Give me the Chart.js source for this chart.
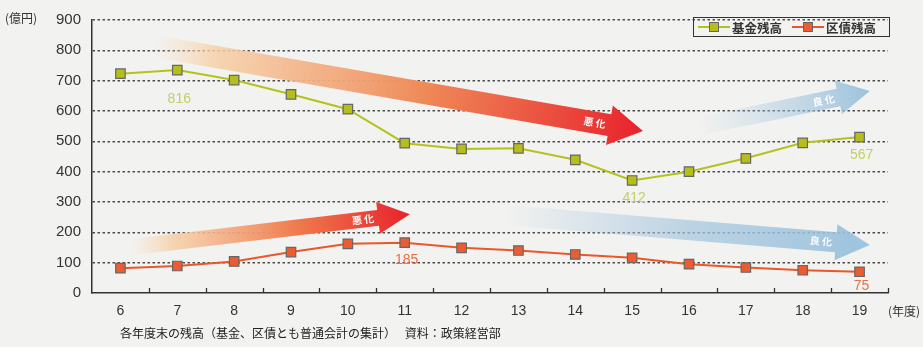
<!DOCTYPE html>
<html>
<head>
<meta charset="utf-8">
<script src="https://cdn.jsdelivr.net/npm/chart.js@4/dist/chart.umd.min.js"></script>
<style>
  html, body { margin: 0; padding: 0; }
  body { width: 923px; height: 347px; position: relative; overflow: hidden; background: #f2f2f0;
         font-family: 'Liberation Sans', Arial, 'Noto Sans CJK JP', sans-serif; color: #222; }
  #c { position: absolute; left: 0; top: 0; }
  .unit { position: absolute; font-size: 12px; font-family: 'Noto Sans CJK JP', sans-serif; color: #333; }
  .legend { position: absolute; left: 693px; top: 17px; width: 195px; height: 18px; border: 1.5px solid #333;
            font-family: 'Noto Sans CJK JP', sans-serif; font-size: 12.5px; font-weight: bold; color: #333;
            display: flex; align-items: center; }
  .item { display: flex; align-items: center; margin-left: 4px; margin-right: 6px; }
  .sw { position: relative; width: 32px; height: 10px; margin-right: 2px; }
  .sw .ln { position: absolute; left: 0; right: 0; top: 4px; height: 2px; }
  .sw .mk { position: absolute; left: 11px; top: 0; width: 8px; height: 8px; border: 1px solid #666; }
  .caption { position: absolute; left: 120px; top: 324px; font-size: 12px; font-family: 'Noto Sans CJK JP', sans-serif; color: #222; white-space: pre; }
</style>
</head>
<body>
<canvas id="c" width="923" height="347"></canvas>
<div class="unit" style="left:5px; top:9px;">(億円)</div>
<div class="unit" style="left:888px; top:302px;">(年度)</div>
<div class="legend">
  <div class="item"><div class="sw"><div class="ln" style="background:#b4c21e"></div><div class="mk" style="background:#b6be1c"></div></div>基金残高</div>
  <div class="item"><div class="sw"><div class="ln" style="background:#e8582a"></div><div class="mk" style="background:#ec5c32"></div></div>区債残高</div>
</div>
<div class="caption">各年度末の残高（基金、区債とも普通会計の集計）　 資料：政策経営部</div>
<script>
// 年度末残高（億円）— 図から読み取った値
const years = ['6', '7', '8', '9', '10', '11', '12', '13', '14', '15', '16', '17', '18', '19'];
const fundBalance = [723, 735, 702, 655, 606, 494, 475, 477, 439, 371, 400, 444, 495, 514];
const debtBalance = [82, 89, 104, 135, 162, 166, 149, 140, 127, 116, 95, 84, 75, 70];
const yTicks = [0, 100, 200, 300, 400, 500, 600, 700, 800, 900];

// 図中の注記数値（年度インデックス, 表示文字, 系列）
const noteIdx = [1, 9, 13, 5, 13];
const noteText = ['816', '412', '567', '185', '75'];
const noteSeries = [0, 0, 0, 1, 1];

// 矢印（始点・終点: [年度インデックス, 億円]）
const arrowFrom = [[0.61, 813], [0.17, 151], [10.19, 550], [6.76, 257]];
const arrowTo = [[9.19, 534], [5.09, 260], [13.18, 666], [13.18, 158]];
const arrowText = ['悪 化', '悪 化', '良 化', '良 化'];

const GREEN = '#b4c21e', ORANGE = '#e8582a';
const NOTE_COLORS = ['#c3cf62', '#ea6e48'];
const NOTE_DY = [29, 18, 18, 17, 14];
const ARROW_STYLE = [
  { shaft: 22, head: 40, len: 34, stops: [[0, 'rgba(248,222,190,0)'], [0.12, 'rgba(246,208,168,0.85)'], [0.55, '#ef8a58'], [1, '#e8222c']] },
  { shaft: 16, head: 32, len: 32, stops: [[0, 'rgba(248,222,190,0)'], [0.15, 'rgba(246,208,168,0.85)'], [0.6, '#ef7a4c'], [1, '#e8222c']] },
  { shaft: 18, head: 34, len: 32, stops: [[0, 'rgba(170,200,225,0)'], [1, 'rgba(152,192,220,0.95)']] },
  { shaft: 20, head: 36, len: 34, stops: [[0, 'rgba(170,200,225,0)'], [0.5, 'rgba(165,198,222,0.7)'], [1, 'rgba(152,192,220,0.95)']] },
];

function drawArrow(ctx, x0, y0, x1, y1, st, text) {
  const ang = Math.atan2(y1 - y0, x1 - x0);
  const L = Math.hypot(x1 - x0, y1 - y0);
  ctx.save();
  ctx.translate(x0, y0);
  ctx.rotate(ang);
  const g = ctx.createLinearGradient(0, 0, L, 0);
  for (const [o, c] of st.stops) g.addColorStop(o, c);
  ctx.fillStyle = g;
  ctx.beginPath();
  ctx.moveTo(0, -st.shaft / 2);
  ctx.lineTo(L - st.len, -st.shaft / 2);
  ctx.lineTo(L - st.len, -st.head / 2);
  ctx.lineTo(L, 0);
  ctx.lineTo(L - st.len, st.head / 2);
  ctx.lineTo(L - st.len, st.shaft / 2);
  ctx.lineTo(0, st.shaft / 2);
  ctx.closePath();
  ctx.fill();
  ctx.fillStyle = 'rgba(255,255,255,0.95)';
  ctx.font = 'bold 10px "Noto Sans CJK JP", sans-serif';
  ctx.textAlign = 'right';
  ctx.textBaseline = 'middle';
  ctx.fillText(text, L - st.len - 4, 0);
  ctx.restore();
}

const decorPlugin = {
  id: 'decor',
  beforeDatasetsDraw(chart) {
    const { ctx, scales: { x, y } } = chart;
    arrowFrom.forEach((f, i) => {
      const t = arrowTo[i];
      drawArrow(ctx, x.getPixelForValue(f[0]), y.getPixelForValue(f[1]),
        x.getPixelForValue(t[0]), y.getPixelForValue(t[1]), ARROW_STYLE[i], arrowText[i]);
    });
    // x軸の目盛（上向き）
    ctx.save();
    ctx.strokeStyle = '#333';
    ctx.lineWidth = 1.3;
    const step = x.getPixelForValue(1) - x.getPixelForValue(0);
    for (let i = 0; i < years.length; i++) {
      const px = Math.round(x.getPixelForValue(i) + step / 2) + 0.5;
      ctx.beginPath();
      ctx.moveTo(px, y.bottom);
      ctx.lineTo(px, y.bottom - 5);
      ctx.stroke();
    }
    ctx.restore();
  },
  afterDatasetsDraw(chart) {
    const { ctx, scales: { x, y } } = chart;
    ctx.save();
    ctx.font = '14px "Liberation Sans", Arial, sans-serif';
    ctx.textAlign = 'center';
    ctx.textBaseline = 'middle';
    noteIdx.forEach((idx, i) => {
      const data = noteSeries[i] === 0 ? fundBalance : debtBalance;
      ctx.fillStyle = NOTE_COLORS[noteSeries[i]];
      ctx.fillText(noteText[i], x.getPixelForValue(idx) + 2, y.getPixelForValue(data[idx]) + NOTE_DY[i]);
    });
    ctx.restore();
  },
};

new Chart(document.getElementById('c'), {
  type: 'line',
  data: {
    labels: years,
    datasets: [
      { label: '基金残高', data: fundBalance, borderColor: GREEN, backgroundColor: '#b6be1c', borderWidth: 2,
        pointStyle: 'rect', pointRadius: 6.7, pointBorderColor: '#666', pointBorderWidth: 1.2, tension: 0 },
      { label: '区債残高', data: debtBalance, borderColor: ORANGE, backgroundColor: '#ec5c32', borderWidth: 2,
        pointStyle: 'rect', pointRadius: 6.7, pointBorderColor: '#666', pointBorderWidth: 1.2, tension: 0 },
    ],
  },
  options: {
    responsive: false,
    animation: false,
    events: [],
    layout: { padding: { top: 13, right: 35, left: 0, bottom: 0 } },
    plugins: { legend: { display: false }, tooltip: { enabled: false } },
    scales: {
      x: {
        offset: true,
        grid: { display: false, drawTicks: false },
        border: { display: true, color: '#333', width: 1.5 },
        ticks: { padding: 10, color: '#333', font: { size: 14, family: '"Liberation Sans", Arial, sans-serif' } },
        afterFit: (s) => { s.height = 54; },
      },
      y: {
        min: 0, max: 900,
        afterBuildTicks: (s) => { s.ticks = yTicks.map((v) => ({ value: v })); },
        grid: {
          drawTicks: false,
          color: (c) => (c.tick && c.tick.value === 0 ? 'rgba(0,0,0,0)' : '#4a4a4a'),
          lineWidth: 1.4,
        },
        border: { display: true, color: '#333', width: 1.5, dash: [2.5, 2.5] },
        ticks: { padding: 11, color: '#333', font: { size: 15, family: '"Liberation Sans", Arial, sans-serif' } },
        afterFit: (s) => { s.width = 92; },
      },
    },
  },
  plugins: [decorPlugin],
});
</script>
</body>
</html>
